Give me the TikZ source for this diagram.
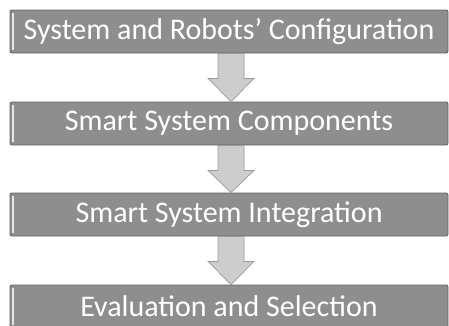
\documentclass[tikz,border=0pt]{standalone}
\usepackage{fontspec}
\setmainfont{Carlito}
\usetikzlibrary{calc}
\definecolor{boxfill}{HTML}{8E8E8E}
\definecolor{boxedge}{HTML}{656565}
\definecolor{boxlight}{HTML}{E6E6E6}
\definecolor{arrowfill}{HTML}{CDCDCD}
\definecolor{arrowedge}{HTML}{9A9A9A}
\begin{document}
\begin{tikzpicture}[x=1pt,y=-1pt,
  stagebox/.style={draw=boxedge, line width=0.9pt, fill=boxfill, rounded corners=2pt,
    minimum width=438pt, minimum height=43pt, inner sep=0pt, text=white,
    font=\fontsize{30}{32}\selectfont},
  flowarrow/.style={draw=arrowedge, fill=arrowfill, line width=0.7pt, line join=miter},
  highlight/.style={draw=boxlight, line width=1.2pt}]
\useasboundingbox (0,0) rectangle (449,325);
\node[stagebox] (b1) at (229,31.5) {System and Robots’ Configuration};
\node[stagebox] (b2) at (229,123.5) {Smart System Components};
\node[stagebox] (b3) at (229,214.5) {Smart System Integration};
\node[stagebox] (b4) at (229,306.5) {Evaluation and Selection};
\foreach \b in {b1,b2,b3,b4}{
  \draw[highlight] ($(\b.north west)+(3.5,3)$) -- ($(\b.south west)+(3.5,-3)$);
}
\foreach \a/\b in {b1/b2,b2/b3,b3/b4}{
  \draw[flowarrow] ($(\a.south)+(-11,0)$) -- ++(0,25) -- ++(-10,0)
    -- ($(\b.north)+(2,0)$) -- ($(\a.south)+(25,25)$) -- ++(-10,0)
    -- ($(\a.south)+(15,0)$) -- cycle;
}
\end{tikzpicture}
\end{document}
